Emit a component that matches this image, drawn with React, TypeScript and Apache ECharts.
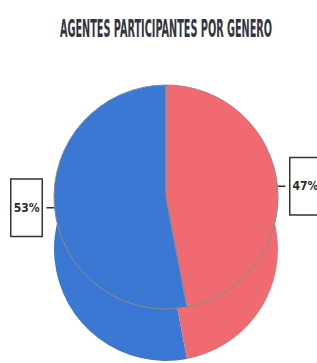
import React, { useEffect, useRef } from "react";
import * as echarts from "echarts";

const titleText = "AGENTES PARTICIPANTES POR GENERO";
const genders = ["Masculino", "Femenino"];
const percents = [53, 47];
const colors = ["#3b78d4", "#f06a72"];

const FONT = '"Liberation Sans Narrow", "DejaVu Sans Condensed", "Arial Narrow", sans-serif';

export default function App() {
  const ref = useRef<HTMLDivElement>(null);
  useEffect(() => {
    if (!ref.current) return;
    const chart = echarts.init(ref.current, null, { renderer: "svg" });
    const data = genders.map((g, i) => ({
      name: g,
      value: percents[i],
      itemStyle: { color: colors[i] },
    }));
    chart.setOption({
      animation: false,
      backgroundColor: "#ffffff",
      graphic: [
        {
          type: "text",
          x: 166,
          y: 29,
          scaleX: 0.45,
          style: {
            text: titleText,
            fill: "#33363f",
            font: `bold 24px ${FONT}`,
            textAlign: "center",
            textVerticalAlign: "middle",
          },
        },
      ],
      series: [
        {
          type: "pie",
          name: "base",
          silent: true,
          clockwise: false,
          startAngle: 90,
          center: [166, 249],
          radius: 112,
          z: 1,
          label: { show: false },
          labelLine: { show: false },
          itemStyle: { borderWidth: 0 },
          data: data.map((d) => ({ ...d })),
        },
        {
          type: "pie",
          name: "top",
          clockwise: false,
          startAngle: 90,
          center: [166, 197],
          radius: 112,
          z: 3,
          bleedMargin: 0,
          itemStyle: { borderColor: "#8c8c8c", borderWidth: 1 },
          label: {
            show: true,
            position: "outside",
            formatter: "{c}%",
            overflow: "none",
            width: 26,
            fontFamily: FONT,
            fontWeight: "bold",
            fontSize: 12,
            color: "#2a2a2a",
            backgroundColor: "#ffffff",
            borderColor: "#333333",
            borderWidth: 1.5,
            padding: [22, 2, 22, 2],
          },
          labelLine: {
            show: true,
            length: 1,
            length2: 7,
            smooth: false,
            lineStyle: { color: "#333333", width: 1.5 },
          },
          data,
        },
      ],
    });
    return () => chart.dispose();
  }, []);
  return (
    <div
      ref={ref}
      style={{ position: "fixed", left: 0, top: 0, width: 317, height: 363 }}
    />
  );
}
